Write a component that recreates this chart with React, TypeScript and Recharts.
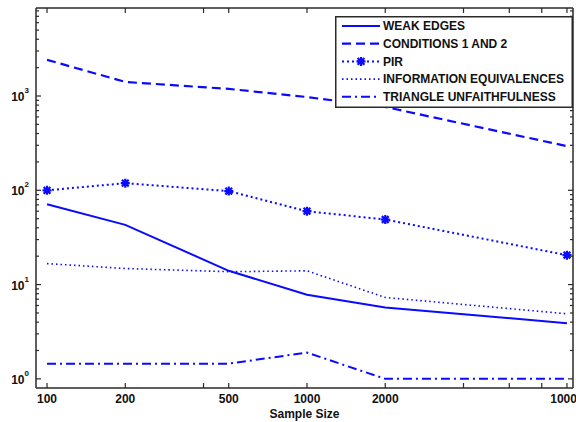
import { LineChart, Line, XAxis, YAxis, Legend } from "recharts";

// values
const sampleSizes = [100, 200, 500, 1000, 2000, 10000];
const weakEdges = [71, 43, 14, 7.8, 5.7, 3.9];
const conditions12 = [2420, 1410, 1190, 975, 765, 294];
const pir = [100, 119, 98, 60, 49, 20.5];
const infoEquivalences = [16.7, 14.8, 13.7, 14, 7.3, 4.9];
const triangleUnfaithfulness = [1.45, 1.45, 1.45, 1.9, 1, 1];

const xTicks = [100, 200, 400, 500, 1000, 2000, 4000, 6000, 8000, 10000];
const xTickLabels = [100, 200, 500, 1000, 2000, 10000];
const yMajorTicks = [1, 10, 100, 1000];
const yMinorMantissas = [2, 3, 4, 5, 6, 7, 8, 9];

const X_DOMAIN: [number, number] = [90.7, 10550];
const Y_DOMAIN: [number, number] = [0.8, 8580];

const yTicks = [
    ...yMajorTicks,
    ...yMajorTicks.flatMap((p) => yMinorMantissas.map((m) => m * p)),
].filter((v) => v >= Y_DOMAIN[0] && v <= Y_DOMAIN[1]).sort((a, b) => a - b);

const data = sampleSizes.map((n, i) => ({
    n,
    weak: weakEdges[i],
    cond: conditions12[i],
    pir: pir[i],
    info: infoEquivalences[i],
    tri: triangleUnfaithfulness[i],
}));

const BLUE = "#0a0aff";
const AXIS = "#2a2a2a";
const FONT = "'Liberation Sans', Arial, sans-serif";

const seriesOrder = ["weak", "cond", "pir", "info", "tri"];
const lineStyles: Record<string, { dash?: string; width: number }> = {
    weak: { width: 2 },
    cond: { dash: "9 5", width: 2.2 },
    pir: { dash: "2 3", width: 2 },
    info: { dash: "1.5 3", width: 1.6 },
    tri: { dash: "9 4 2 4", width: 2 },
};

function starPath(cx: number, cy: number, r: number) {
    const d = r * 0.75;
    return `M${cx - r},${cy}H${cx + r}M${cx},${cy - r}V${cy + r}M${cx - d},${cy - d}L${cx + d},${cy + d}M${cx - d},${cy + d}L${cx + d},${cy - d}`;
}

function StarDot(props: any) {
    const { cx, cy, index } = props;
    if (cx == null || cy == null) return <g key={`s${index}`} />;
    return <path key={`s${index}`} d={starPath(cx, cy, 4.5)} stroke={BLUE} strokeWidth={2.2} fill="none" />;
}

function BottomTick({ x, y, payload }: any) {
    const labelled = xTickLabels.includes(payload.value);
    return (
        <g>
            <line x1={x} y1={y} x2={x} y2={y - 5} stroke={AXIS} strokeWidth={1.2} />
            {labelled && (
                <text x={x} y={y + 15} textAnchor="middle" fontSize={12} fontWeight="bold" fontFamily={FONT} fill="#111">
                    {payload.value}
                </text>
            )}
        </g>
    );
}

function TopTick({ x, y }: any) {
    return <line x1={x} y1={y} x2={x} y2={y + 5} stroke={AXIS} strokeWidth={1.2} />;
}

function LeftTick({ x, y, payload }: any) {
    const major = yMajorTicks.includes(payload.value);
    return (
        <g>
            <line x1={x} y1={y} x2={x + (major ? 5 : 3)} y2={y} stroke={AXIS} strokeWidth={1.2} />
            {major && (
                <text x={x - 7} y={y + 5} textAnchor="end" fontSize={12} fontWeight="bold" fontFamily={FONT} fill="#111">
                    <tspan>10</tspan>
                    <tspan dy={-8} fontSize={8}>{Math.round(Math.log10(payload.value))}</tspan>
                </text>
            )}
        </g>
    );
}

function RightTick({ x, y, payload }: any) {
    const major = yMajorTicks.includes(payload.value);
    return <line x1={x} y1={y} x2={x - (major ? 5 : 3)} y2={y} stroke={AXIS} strokeWidth={1.2} />;
}

function LegendBox({ payload }: any) {
    const rowH = 17.7;
    const items = seriesOrder
        .map((k) => (payload || []).find((e: any) => e.dataKey === k))
        .filter(Boolean);
    return (
        <svg width={238} height={92} style={{ display: "block" }}>
            <rect x={0.75} y={0.75} width={236.5} height={90.5} fill="#fff" stroke={AXIS} strokeWidth={1.5} />
            {items.map((entry: any, i: number) => {
                const st = lineStyles[entry.dataKey] || { width: 2 };
                const cy = 10 + i * rowH;
                return (
                    <g key={entry.dataKey}>
                        <line x1={7} y1={cy} x2={45} y2={cy} stroke={BLUE} strokeWidth={st.width} strokeDasharray={st.dash} />
                        {entry.dataKey === "pir" && (
                            <path d={starPath(26, cy, 4.5)} stroke={BLUE} strokeWidth={2.2} fill="none" />
                        )}
                        <text x={48} y={cy + 4.3} fontSize={12} fontWeight="bold" fontFamily={FONT} fill="#111">
                            {entry.value}
                        </text>
                    </g>
                );
            })}
        </svg>
    );
}

export default function App() {
    return (
        <div style={{ position: "fixed", left: 0, top: 0, width: 576, height: 422, background: "#fff" }}>
            <LineChart width={576} height={422} data={data} margin={{ top: 7, right: 2, left: 0, bottom: 0 }}>
                <XAxis
                    dataKey="n"
                    type="number"
                    scale="log"
                    domain={X_DOMAIN}
                    allowDataOverflow
                    ticks={xTicks}
                    interval={0}
                    height={34}
                    tickSize={0}
                    tickMargin={0}
                    tick={<BottomTick />}
                    axisLine={{ stroke: AXIS, strokeWidth: 1.5 }}
                    label={{
                        value: "Sample Size",
                        position: "insideBottom",
                        offset: 4,
                        style: { fontSize: 12, fontWeight: "bold", fontFamily: FONT, fill: "#111" },
                    }}
                />
                <XAxis
                    xAxisId="top"
                    orientation="top"
                    dataKey="n"
                    type="number"
                    scale="log"
                    domain={X_DOMAIN}
                    allowDataOverflow
                    ticks={xTicks}
                    interval={0}
                    height={1}
                    tickSize={0}
                    tickMargin={0}
                    tick={<TopTick />}
                    axisLine={{ stroke: AXIS, strokeWidth: 1.5 }}
                />
                <YAxis
                    type="number"
                    scale="log"
                    domain={Y_DOMAIN}
                    allowDataOverflow
                    ticks={yTicks}
                    interval={0}
                    width={36}
                    tickSize={0}
                    tickMargin={0}
                    tick={<LeftTick />}
                    axisLine={{ stroke: AXIS, strokeWidth: 1.5 }}
                />
                <YAxis
                    yAxisId="right"
                    orientation="right"
                    type="number"
                    scale="log"
                    domain={Y_DOMAIN}
                    allowDataOverflow
                    ticks={yTicks}
                    interval={0}
                    width={1}
                    tickSize={0}
                    tickMargin={0}
                    tick={<RightTick />}
                    axisLine={{ stroke: AXIS, strokeWidth: 1.5 }}
                />
                <Legend
                    layout="vertical"
                    align="center"
                    verticalAlign="middle"
                    content={<LegendBox />}
                    wrapperStyle={{ position: "absolute", left: 335, top: 16, width: 238, height: 92 }}
                />
                <Line dataKey="weak" name="WEAK EDGES" stroke={BLUE} strokeWidth={lineStyles.weak.width} dot={false} isAnimationActive={false} />
                <Line dataKey="cond" name="CONDITIONS 1 AND 2" stroke={BLUE} strokeWidth={lineStyles.cond.width} strokeDasharray={lineStyles.cond.dash} dot={false} isAnimationActive={false} />
                <Line dataKey="pir" name="PIR" stroke={BLUE} strokeWidth={lineStyles.pir.width} strokeDasharray={lineStyles.pir.dash} dot={StarDot} activeDot={false} isAnimationActive={false} />
                <Line dataKey="info" name="INFORMATION EQUIVALENCES" stroke={BLUE} strokeWidth={lineStyles.info.width} strokeDasharray={lineStyles.info.dash} dot={false} isAnimationActive={false} />
                <Line dataKey="tri" name="TRIANGLE UNFAITHFULNESS" stroke={BLUE} strokeWidth={lineStyles.tri.width} strokeDasharray={lineStyles.tri.dash} dot={false} isAnimationActive={false} />
            </LineChart>
        </div>
    );
}
